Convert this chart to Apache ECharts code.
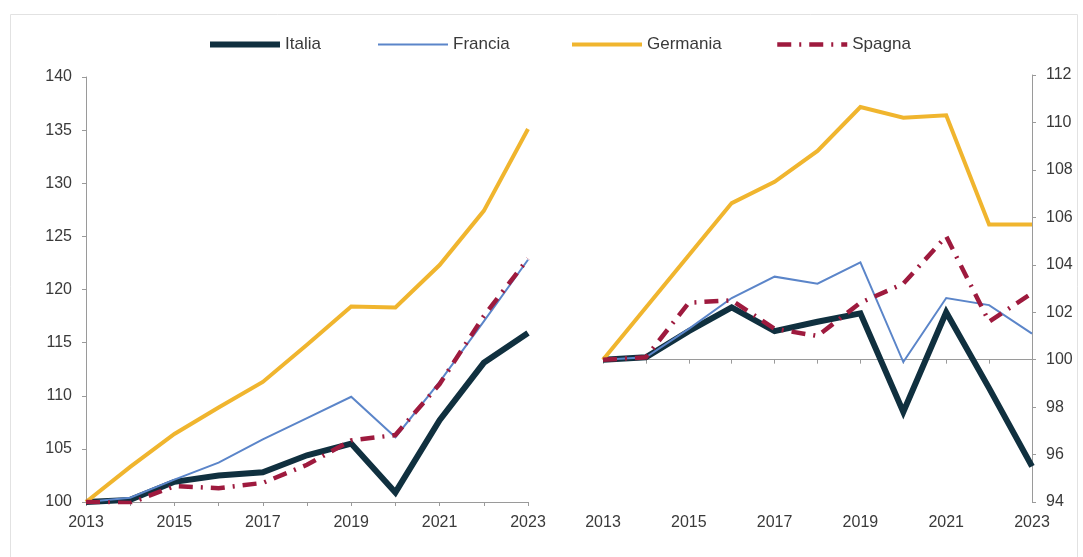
<!DOCTYPE html>
<html>
<head>
<meta charset="utf-8">
<script src="https://cdn.jsdelivr.net/npm/echarts@6/dist/echarts.min.js"></script>
<style>
  html, body { margin: 0; padding: 0; background: #ffffff; }
  #chart { width: 1083px; height: 557px; }
</style>
</head>
<body>
<div id="chart"></div>
<script>
// ---- Data ----
const years = ['2013','2014','2015','2016','2017','2018','2019','2020','2021','2022','2023'];

// Left panel (index 2013 = 100)
const italiaLeft   = [100, 100.2, 101.9, 102.5, 102.8, 104.4, 105.5, 100.9, 107.7, 113.1, 115.9];
const franciaLeft  = [100, 100.4, 102.1, 103.7, 105.9, 107.9, 109.9, 106.1, 111.3, 117.0, 122.8];
const germaniaLeft = [100, 103.3, 106.4, 108.9, 111.3, 114.8, 118.4, 118.3, 122.3, 127.4, 135.1];
const spagnaLeft   = [100, 99.9, 101.5, 101.3, 101.8, 103.5, 105.8, 106.3, 111.1, 117.5, 122.9];

// Right panel (index 2013 = 100)
const italiaRight   = [100, 100.1, 101.2, 102.2, 101.2, 101.6, 101.95, 97.8, 102.0, 98.8, 95.5];
const franciaRight  = [100, 100.1, 101.3, 102.6, 103.5, 103.2, 104.1, 99.9, 102.6, 102.3, 101.1];
const germaniaRight = [100, 102.2, 104.4, 106.6, 107.5, 108.8, 110.65, 110.2, 110.3, 105.7, 105.7];
const spagnaRight   = [100, 100.1, 102.4, 102.5, 101.3, 101.0, 102.4, 103.2, 105.2, 101.6, 102.8];

const seriesNames = ['Italia', 'Francia', 'Germania', 'Spagna'];

// Axis ranges
const leftMin = 100, leftMax = 140, leftStep = 5;
const rightMin = 94, rightMax = 112, rightStep = 2;
const rightBase = 100;

// ---- Styles ----
const FONT = "'Liberation Sans', Arial, sans-serif";
const TXT = '#3a3a3a';
const AXIS = '#9a9a9a';
const styles = {
  Italia:   { color: '#10303f', width: 6, type: 'solid', z: 2 },
  Francia:  { color: '#5b85c9', width: 2, type: 'solid', z: 4 },
  Germania: { color: '#f0b52e', width: 4, type: 'solid', z: 3 },
  Spagna:   { color: '#9e1a3e', width: 4.5, type: [14, 8, 2, 8], z: 5 }
};

const leftGrid  = { left: 86,  top: 77, width: 442, height: 425 };
const rightGrid = { left: 603, top: 75, width: 429, height: 427 };

function mkSeries(name, data, idx) {
  const s = styles[name];
  return {
    name: name, type: 'line', data: data,
    xAxisIndex: idx, yAxisIndex: idx,
    symbol: 'none', smooth: false, z: s.z,
    lineStyle: { color: s.color, width: s.width, type: s.type, cap: 'butt', join: 'miter' },
    itemStyle: { color: s.color },
    emphasis: { disabled: true }
  };
}

const catAxisCommon = {
  type: 'category', data: years, boundaryGap: false,
  axisLabel: { interval: 1, color: TXT, fontSize: 16, fontFamily: FONT, margin: 13 },
  axisTick: { interval: 0, length: 4, lineStyle: { color: AXIS } },
  axisLine: { lineStyle: { color: AXIS, width: 1 } },
  splitLine: { show: false }
};

const rightZeroOffset = -rightGrid.height * (rightBase - rightMin) / (rightMax - rightMin);

const legendLefts = [207, 377, 570, 775];

const option = {
  animation: false,
  backgroundColor: '#ffffff',
  graphic: [{
    type: 'rect', left: 8, top: 12, shape: { width: 1067, height: 560 },
    style: { fill: 'none', stroke: '#e2e2e2', lineWidth: 1 }, silent: true, z: -10
  }],
  legend: seriesNames.map((n, i) => ({
    data: [n], left: legendLefts[i], top: 36,
    itemWidth: 70, itemHeight: 14, itemGap: 0, padding: 0,
    itemStyle: { opacity: 0 },
    lineStyle: { color: styles[n].color, width: styles[n].width, type: styles[n].type, cap: 'butt' },
    textStyle: { color: TXT, fontSize: 17, fontFamily: FONT }
  })),
  grid: [leftGrid, rightGrid],
  xAxis: [
    Object.assign({}, catAxisCommon, { gridIndex: 0 }),
    Object.assign({}, catAxisCommon, {
      gridIndex: 1, axisLine: { show: false }, axisTick: { show: false }
    }),
    Object.assign({}, catAxisCommon, {
      gridIndex: 1, position: 'bottom', offset: rightZeroOffset,
      axisLabel: { show: false }
    })
  ],
  yAxis: [
    {
      gridIndex: 0, type: 'value', min: leftMin, max: leftMax, interval: leftStep,
      axisLine: { show: true, lineStyle: { color: AXIS, width: 1 } },
      axisTick: { show: true, length: 4, lineStyle: { color: AXIS } },
      axisLabel: { color: TXT, fontSize: 16, fontFamily: FONT, margin: 14 },
      splitLine: { show: false }
    },
    {
      gridIndex: 1, type: 'value', position: 'right', min: rightMin, max: rightMax, interval: rightStep,
      axisLine: { show: true, lineStyle: { color: AXIS, width: 1 } },
      axisTick: { show: true, length: 4, lineStyle: { color: AXIS } },
      axisLabel: { color: TXT, fontSize: 16, fontFamily: FONT, margin: 14 },
      splitLine: { show: false }
    }
  ],
  series: [
    mkSeries('Italia', italiaLeft, 0),
    mkSeries('Francia', franciaLeft, 0),
    mkSeries('Germania', germaniaLeft, 0),
    mkSeries('Spagna', spagnaLeft, 0),
    mkSeries('Italia', italiaRight, 1),
    mkSeries('Francia', franciaRight, 1),
    mkSeries('Germania', germaniaRight, 1),
    mkSeries('Spagna', spagnaRight, 1)
  ]
};

const chart = echarts.init(document.getElementById('chart'), null, { renderer: 'canvas' });
chart.setOption(option);
</script>
</body>
</html>
